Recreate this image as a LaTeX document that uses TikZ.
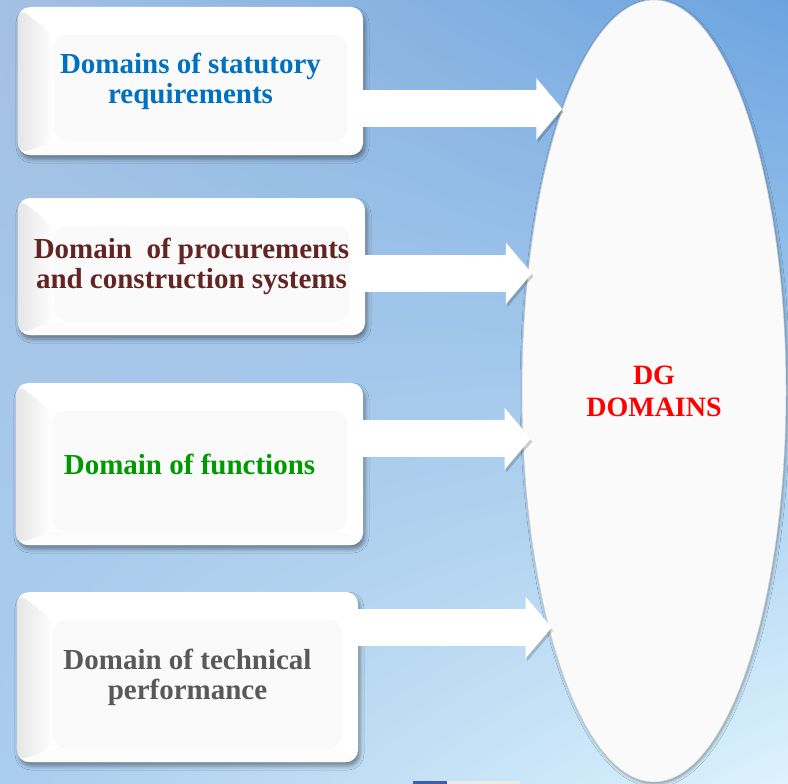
\documentclass[tikz,border=0pt]{standalone}
\usepackage{fontspec}
\setmainfont{Liberation Serif}
\usetikzlibrary{shapes.geometric,arrows.meta,calc,shadows.blur,shadings}
\definecolor{bgtl}{HTML}{A3C1E2}
\definecolor{bgtr}{HTML}{6CA4E0}
\definecolor{bgbl}{HTML}{A9CDEE}
\definecolor{bgbr}{HTML}{DDF3FD}
\definecolor{statutory}{HTML}{0070C0}
\definecolor{procure}{HTML}{632523}
\definecolor{functions}{HTML}{009900}
\definecolor{technical}{HTML}{595959}
\definecolor{face}{HTML}{FAFAFA}
\definecolor{barblue}{HTML}{3F5FA8}

\tikzset{
  domainbox/.style={rounded corners=12bp, fill=white, inner sep=0pt, align=center,
    font=\fontsize{29bp}{30bp}\selectfont\bfseries,
    blur shadow={shadow xshift=2bp, shadow yshift=-4bp, shadow blur radius=4bp, shadow opacity=40},
    path picture={
      % bevelled face of the button
      \path (path picture bounding box.north west) coordinate (pnw)
            (path picture bounding box.south west) coordinate (psw)
            (path picture bounding box.south east) coordinate (pse);
      \shade[left color=black!10, right color=white]
        (pnw) -- (psw) -- ($(psw)+(36bp,14bp)$) -- ($(pnw)+(36bp,-28bp)$) -- cycle;
      \fill[black!1] (psw) -- (pse) -- ($(pse)+(-16bp,14bp)$) -- ($(psw)+(36bp,14bp)$) -- cycle;
      \fill[face] ($(pnw)+(36bp,-28bp)$) rectangle ($(pse)+(-16bp,14bp)$);
    }},
  dgoval/.style={ellipse, fill=face, draw=black!20, line width=0.5bp, inner sep=0pt,
    minimum width=264bp, minimum height=782bp, align=center, text=red,
    font=\fontsize{28bp}{32bp}\selectfont\bfseries,
    blur shadow={shadow xshift=1bp, shadow yshift=-2bp, shadow blur radius=3bp, shadow opacity=35}},
  flowarrow/.style={draw=white, line width=37bp, -{Triangle[length=26bp,width=60bp]},
    preaction={draw=black, opacity=.18, transform canvas={shift={(1.5bp,-3bp)}}}}
}

\begin{document}
\begin{tikzpicture}[x=1bp,y=-1bp]
    \useasboundingbox (0,0) rectangle (788,784);
    \shade[upper left=bgtl, upper right=bgtr, lower left=bgbl, lower right=bgbr] (0,0) rectangle (788,784);
    \fill[barblue] (413,781) rectangle (447,784);
    \fill[black!8] (447,781) rectangle (520,784);

    \node[dgoval] (dg) at (654,391) {DG\\DOMAINS};

    \node[domainbox, minimum width=345bp, minimum height=148bp, text=statutory] (b1) at (190.5,81)
        {Domains of statutory\\requirements};
    \node[domainbox, minimum width=347bp, minimum height=137bp, text=procure] (b2) at (191.5,266.5)
        {Domain~ of procurements\\and construction systems};
    \node[domainbox, minimum width=347bp, minimum height=162bp, text=functions] (b3) at (189.5,464)
        {Domain of functions};
    \node[domainbox, minimum width=341bp, minimum height=170bp, text=technical] (b4) at (187.5,677)
        {Domain of technical\\performance};

    \draw[flowarrow] (b1.east |- dg.108.5) -- (dg.108.5);
    \draw[flowarrow, shorten >=-4bp] (b2.east |- dg.137.4) -- (dg.137.4);
    \draw[flowarrow, shorten >=-8bp] (b3.east |- dg.200.5) -- (dg.200.5);
    \draw[flowarrow, shorten >=-3bp] (b4.east |- dg.246.1) -- (dg.246.1);
\end{tikzpicture}
\end{document}
